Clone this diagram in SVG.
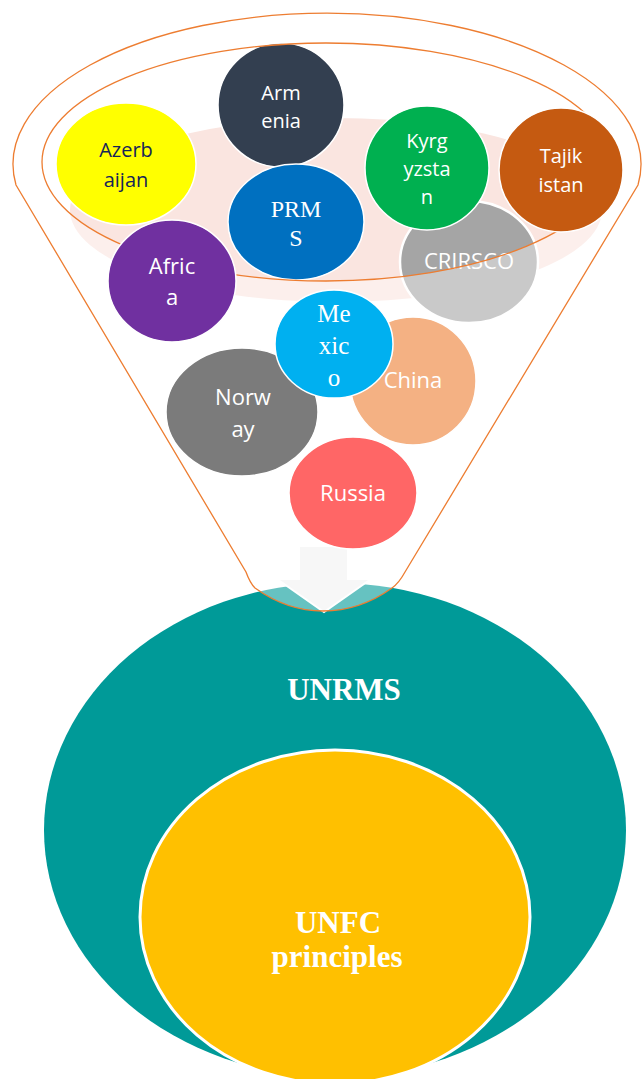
<svg xmlns="http://www.w3.org/2000/svg" width="642" height="1079" viewBox="0 0 642 1079">
<style>
.c{stroke:#FFFFFF;stroke-width:1.5}
.t{font-family:"Open Sans","Noto Sans","Liberation Sans",sans-serif;fill:#FFFFFF;text-anchor:middle;font-size:20px}
.t22{font-size:22px}
.s{font-family:"Liberation Serif","Times New Roman",serif;fill:#FFFFFF;text-anchor:middle}
.b{font-family:"Liberation Serif","Times New Roman",serif;font-weight:bold;fill:#FFFFFF;text-anchor:middle;font-size:31px}
.fl{fill:none;stroke:#ED7D31;stroke-width:1.3}
</style>
<rect width="642" height="1079" fill="#FFFFFF"/>
<g id="unrms">
<ellipse cx="335" cy="830" rx="291" ry="247" fill="#009A98"/>
<text class="b" x="344" y="700">UNRMS</text>
</g>
<g id="unfc">
<ellipse cx="335" cy="917" rx="195" ry="167" fill="#FFC000" stroke="#FFFFFF" stroke-width="3"/>
<text class="b" x="338" y="933">UNFC</text>
<text class="b" x="337" y="967">principles</text>
</g>
<ellipse id="rim-glow" cx="336" cy="210" rx="266" ry="92" fill="#FAE5E0"/>
<g id="armenia">
<ellipse class="c" cx="281" cy="105" rx="63" ry="62" fill="#333F50"/>
<text class="t" x="281" y="100">Arm</text>
<text class="t" x="281" y="128">enia</text>
</g>
<g id="prms">
<ellipse class="c" cx="296" cy="222" rx="68" ry="58" fill="#0070C0"/>
<text class="s" font-size="24" x="296" y="217">PRM</text>
<text class="s" font-size="24" x="296" y="246">S</text>
</g>
<g id="azerbaijan">
<ellipse class="c" cx="126" cy="164" rx="70" ry="61" fill="#FFFF00"/>
<text class="t" style="fill:#15245A" x="126" y="157">Azerb</text>
<text class="t" style="fill:#15245A" x="126" y="187">aijan</text>
</g>
<g id="crirsco">
<ellipse cx="469" cy="262" rx="69" ry="61" fill="#A5A5A5" stroke="#FFFFFF" stroke-width="2.5"/>
<text class="t t22" x="469" y="269">CRIRSCO</text>
</g>
<g id="kyrgyzstan">
<ellipse class="c" cx="427" cy="168" rx="62" ry="62" fill="#00B050"/>
<text class="t" x="427" y="148">Kyrg</text>
<text class="t" x="427" y="176">yzsta</text>
<text class="t" x="427" y="204">n</text>
</g>
<g id="connectors">
<path id="arrow" d="M299 546 L348 546 L348 579 L371 579 L324 612 L277 579 L299 579 Z" fill="#F2F2F2" stroke="#FFFFFF" stroke-width="2"/>
</g>
<g id="funnel">
<path d="M16 185 A314 151 0 1 1 638 185 L405 572 Q399 583 392 588 Q360 611 323 611 Q287 611 255 588 Q250 583 246 572 Z M42 162 A284 119 0 0 0 610 162 A284 119 0 0 0 42 162 Z" fill="#FFFFFF" fill-opacity="0.4" fill-rule="evenodd"/>
<path class="fl" d="M16 185 A314 151 0 1 1 638 185 L405 572 Q399 583 392 588 Q360 611 323 611 Q287 611 255 588 Q250 583 246 572 Z"/>
<ellipse class="fl" cx="326" cy="162" rx="284" ry="119"/>
</g>
<g id="tajikistan">
<ellipse class="c" cx="561" cy="170" rx="62" ry="62" fill="#C55A11"/>
<text class="t" x="561" y="163">Tajik</text>
<text class="t" x="561" y="192">istan</text>
</g>
<g id="africa">
<ellipse class="c" cx="172" cy="281" rx="64" ry="61" fill="#7030A0"/>
<text class="t t22" x="172" y="274">Afric</text>
<text class="t t22" x="172" y="305">a</text>
</g>
<g id="norway">
<ellipse class="c" cx="242" cy="412" rx="76" ry="64" fill="#7B7B7B"/>
<text class="t t22" x="243" y="405">Norw</text>
<text class="t t22" x="243" y="437">ay</text>
</g>
<g id="china">
<ellipse class="c" cx="413" cy="381" rx="63" ry="64" fill="#F4B183"/>
<text class="t t22" x="413" y="388">China</text>
</g>
<g id="russia">
<ellipse class="c" cx="353" cy="493" rx="64" ry="56" fill="#FF6666"/>
<text class="t t22" x="353" y="501">Russia</text>
</g>
<g id="mexico">
<ellipse class="c" cx="334" cy="344" rx="59" ry="54" fill="#00B0F0"/>
<text class="s" font-size="25" x="334" y="322">Me</text>
<text class="s" font-size="25" x="334" y="354">xic</text>
<text class="s" font-size="25" x="334" y="386">o</text>
</g>
</svg>
